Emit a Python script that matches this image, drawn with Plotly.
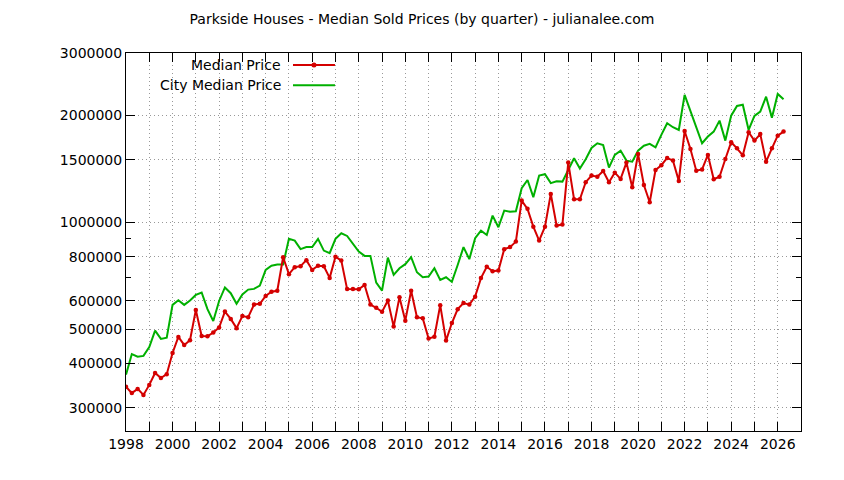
import math

import plotly.graph_objects as go

# quarterly data, 1998 Q1 .. 2026 Q2
quarters = [y + q / 4 for y in range(1998, 2027) for q in range(4)][:114]

median_price = [
    344000, 330000, 339000, 326000, 348000, 376000, 364000, 373000,
    428000, 475000, 451000, 465000, 566000, 478000, 477000, 489000,
    505000, 560000, 534000, 503000, 544000, 540000, 586000, 589000,
    620000, 637000, 641000, 797000, 714000, 747000, 752000, 782000,
    734000, 754000, 752000, 697000, 800000, 780000, 648000, 648000,
    647000, 666000, 586000, 574000, 559000, 602000, 508000, 615000,
    528000, 641000, 540000, 536000, 470000, 476000, 584000, 464000,
    520000, 569000, 592000, 586000, 617000, 696000, 749000, 728000,
    731000, 840000, 851000, 882000, 1151000, 1091000, 972000, 888000,
    972000, 1202000, 979000, 985000, 1473000, 1161000, 1161000, 1297000,
    1354000, 1344000, 1395000, 1297000, 1380000, 1325000, 1473000, 1255000,
    1558000, 1274000, 1139000, 1404000, 1448000, 1518000, 1492000, 1308000,
    1809000, 1609000, 1398000, 1409000, 1548000, 1322000, 1344000, 1508000,
    1681000, 1616000, 1544000, 1794000, 1699000, 1772000, 1482000, 1616000,
    1754000, 1801000,
]

city_median_price = [
    372000, 425000, 418000, 420000, 445000, 495000, 469000, 473000,
    585000, 603000, 585000, 602000, 624000, 634000, 569000, 527000,
    600000, 655000, 631000, 589000, 626000, 646000, 649000, 663000,
    734000, 754000, 760000, 760000, 898000, 888000, 840000, 851000,
    851000, 898000, 832000, 818000, 898000, 931000, 915000, 873000,
    827000, 804000, 804000, 676000, 642000, 795000, 711000, 742000,
    762000, 797000, 723000, 700000, 703000, 742000, 688000, 700000,
    679000, 758000, 851000, 787000, 902000, 947000, 921000, 1044000,
    968000, 1079000, 1070000, 1074000, 1247000, 1316000, 1177000, 1354000,
    1366000, 1289000, 1305000, 1302000, 1410000, 1515000, 1417000, 1505000,
    1620000, 1670000, 1650000, 1426000, 1548000, 1592000, 1492000, 1482000,
    1592000, 1644000, 1663000, 1626000, 1763000, 1901000, 1853000, 1821000,
    2285000, 2050000, 1860000, 1670000, 1744000, 1801000, 1934000, 1699000,
    1998000, 2127000, 2145000, 1821000, 1995000, 2050000, 2259000, 1972000,
    2300000, 2222000,
]

y_ticks = [300000, 400000, 500000, 600000, 800000, 1000000, 1500000, 2000000, 3000000]
y_minor = [700000, 900000]
x_years = list(range(1998, 2027))

RED = '#d40000'
GREEN = '#00b000'
FONT = 'DejaVu Sans'

fig = go.Figure()
fig.add_trace(go.Scatter(x=quarters, y=city_median_price, name='City Median Price',
                         mode='lines', line=dict(color=GREEN, width=2)))
fig.add_trace(go.Scatter(x=quarters, y=median_price, name='Median Price',
                         mode='lines+markers', line=dict(color=RED, width=2),
                         marker=dict(color=RED, size=4.5)))

fig.update_layout(
    width=844, height=480,
    margin=dict(l=126, r=43, t=53, b=49),
    plot_bgcolor='white', paper_bgcolor='white',
    showlegend=False,
    font=dict(family=FONT, size=13, color='black'),
    title=dict(text='Parkside Houses - Median Sold Prices (by quarter) - julianalee.com',
               x=0.5, xanchor='center', y=0.96, yanchor='middle',
               font=dict(family=FONT, size=14, color='black')),
)

fig.update_xaxes(range=[1998, 2027], tickvals=x_years,
                 ticktext=[str(y) if y % 2 == 0 else '' for y in x_years],
                 ticks='inside', ticklen=9, tickcolor='black',
                 showline=True, linecolor='black', linewidth=1, mirror='ticks',
                 showgrid=True, gridcolor='#999999', gridwidth=1, griddash='1px,3px',
                 zeroline=False, tickfont=dict(size=14))

fig.update_yaxes(type='log', range=[math.log10(258000), math.log10(3000000)],
                 tickvals=y_ticks, ticktext=[str(v) for v in y_ticks],
                 ticks='inside', ticklen=9, tickcolor='black',
                 showline=True, linecolor='black', linewidth=1, mirror='ticks',
                 showgrid=True, gridcolor='#999999', gridwidth=1, griddash='1px,3px',
                 minor=dict(tickvals=y_minor, ticks='inside', ticklen=5,
                            tickcolor='black', showgrid=False),
                 zeroline=False, tickfont=dict(size=14))

# gnuplot style key: label on the left, sample line on the right
key = [('Median Price', RED, 0.968, True), ('City Median Price', GREEN, 0.915, False)]
for label, color, ky, with_point in key:
    fig.add_annotation(text=label, xref='paper', yref='paper', x=0.233, y=ky,
                       xanchor='right', yanchor='middle', showarrow=False,
                       font=dict(family=FONT, size=14, color='black'))
    fig.add_shape(type='line', xref='paper', yref='paper', x0=0.2474, x1=0.3096,
                  y0=ky, y1=ky, line=dict(color=color, width=2))
    if with_point:
        fig.add_shape(type='circle', xref='paper', yref='paper',
                      xsizemode='pixel', ysizemode='pixel',
                      xanchor=0.2785, yanchor=ky, x0=-2.5, x1=2.5, y0=-2.5, y1=2.5,
                      fillcolor=color, line=dict(color=color, width=0))

# page body has a default margin, drop it so the figure sits at 0,0
fig.write_html('out.html', config={'displayModeBar': False},
               post_script="document.body.style.margin='0';")
